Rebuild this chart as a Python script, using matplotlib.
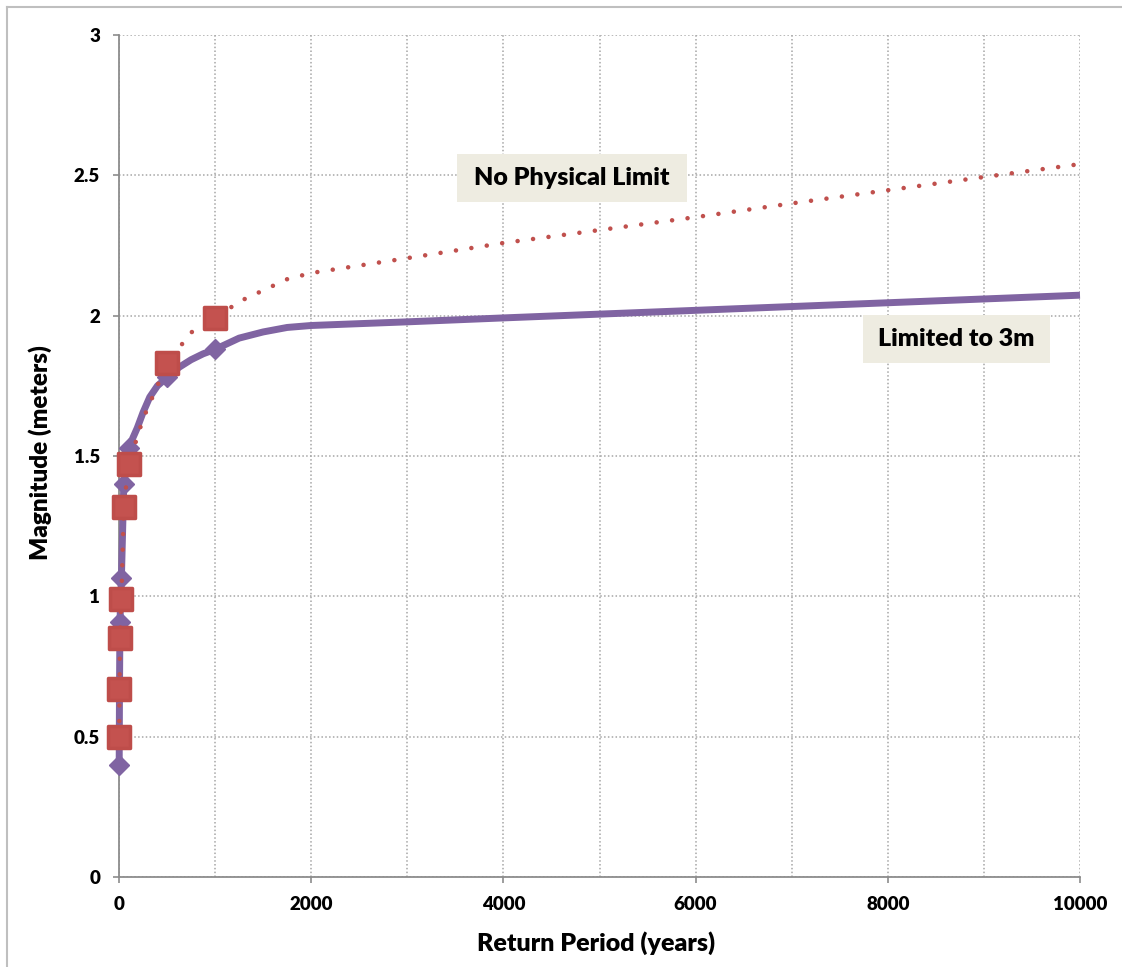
import matplotlib
matplotlib.use("Agg")
import matplotlib.pyplot as plt
import matplotlib.patches as patches
from matplotlib.lines import Line2D
from matplotlib.markers import MarkerStyle

# Marker points (return period in years, magnitude in meters)
RETURN_PERIOD = [2, 5, 10, 25, 50, 100, 500, 1000]
LIMITED = [0.40, 0.66, 0.91, 1.065, 1.40, 1.53, 1.78, 1.88]
UNLIMITED = [0.50, 0.67, 0.85, 0.99, 1.32, 1.47, 1.83, 1.99]

# Smoothed line traces
LIMITED_LINE_X = [2, 5, 10, 25, 50, 100, 190, 250, 320, 400, 500, 625, 750,
                  875, 1000, 1250, 1500, 1750, 2000, 3000, 4000, 6000, 8000,
                  10000]
LIMITED_LINE_Y = [0.40, 0.66, 0.91, 1.065, 1.40, 1.53, 1.60, 1.655, 1.71,
                  1.75, 1.78, 1.816, 1.843, 1.864, 1.88, 1.92, 1.942, 1.958,
                  1.965, 1.978, 1.992, 2.019, 2.046, 2.073]
UNLIMITED_LINE_X = [2, 5, 10, 25, 50, 100, 250, 500, 750, 1000, 1250, 1500,
                    1750, 2000, 3000, 4000, 5000, 6000, 7000, 8000, 9000, 10000]
UNLIMITED_LINE_Y = [0.50, 0.67, 0.85, 0.99, 1.32, 1.47, 1.632, 1.83, 1.94,
                    1.99, 2.05, 2.09, 2.13, 2.152, 2.205, 2.259, 2.305, 2.351,
                    2.40, 2.447, 2.494, 2.54]

PURPLE = "#8064A2"
RED = "#C0504D"
GRID = "#A6A6A6"
AXIS = "#8C8C8C"
BOX = "#EEECE1"
WEIGHT = "heavy"

plt.rcParams["font.family"] = ["Lato", "DejaVu Sans"]

W, H = 1122, 967
fig = plt.figure(figsize=(W / 100, H / 100), dpi=100)
ax = fig.add_axes([119 / W, 1 - 877 / H, (1080 - 119) / W, (877 - 35) / H])

ax.set_xlim(0, 10000)
ax.set_ylim(0, 3)
ax.set_xticks(range(0, 10001, 2000))
ax.set_xticks(range(0, 10001, 1000), minor=True)
ax.set_yticks([0, 0.5, 1, 1.5, 2, 2.5, 3])
ax.set_yticklabels(["0", "0.5", "1", "1.5", "2", "2.5", "3"])

ax.grid(True, which="both", axis="x", color=GRID, ls=(0, (1, 1.5)), lw=1.1)
ax.grid(True, which="major", axis="y", color=GRID, ls=(0, (1, 1.5)), lw=1.1)
ax.set_axisbelow(True)

for side in ("top", "right"):
    ax.spines[side].set_visible(False)
for side in ("left", "bottom"):
    ax.spines[side].set_color(AXIS)
    ax.spines[side].set_linewidth(1.3)

ax.tick_params(axis="both", which="major", direction="out", length=4.5,
               width=1.2, color=AXIS, labelsize=13.5)
ax.tick_params(axis="x", which="major", pad=9)
ax.tick_params(axis="y", which="major", pad=9)
ax.tick_params(axis="x", which="minor", length=0)
for lbl in ax.get_xticklabels() + ax.get_yticklabels():
    lbl.set_fontweight(WEIGHT)

# ---- Limited to 3m (purple, solid smooth line with diamonds) ----
ax.plot(LIMITED_LINE_X, LIMITED_LINE_Y, color=PURPLE, lw=5,
        solid_capstyle="butt", solid_joinstyle="round", zorder=3,
        clip_on=False)
ax.plot(RETURN_PERIOD, LIMITED, ls="none", marker="D", ms=10,
        mfc=PURPLE, mec=PURPLE, mew=1, zorder=4, clip_on=False)

# ---- No physical limit (red, round-dot line with squares) ----
ax.add_line(Line2D(UNLIMITED_LINE_X, UNLIMITED_LINE_Y, color=RED, lw=3.3,
                   ls=(0, (0.001, 3.4)), dash_capstyle="round", zorder=5,
                   clip_on=False))
ax.plot(RETURN_PERIOD, UNLIMITED, ls="none",
        marker=MarkerStyle("s", joinstyle="round"), ms=16.5,
        mfc="#C4524F", mec="#BE4D4A", mew=2.5, zorder=6, clip_on=False)

# ---- Labels ----
ax.set_xlabel("Return Period (years)", fontsize=18, fontweight=WEIGHT,
              va="center")
ax.xaxis.set_label_coords(0.496, -0.0784)
ax.set_ylabel("Magnitude (meters)", fontsize=17.5, fontweight=WEIGHT,
              va="center")
ax.yaxis.set_label_coords(-0.082, 0.5036)

# ---- Text boxes ----
def label_box(x, y, w, h, text):
    ax.add_patch(patches.Rectangle((x, y), w, h, transform=ax.transAxes,
                                   fc=BOX, ec="none", zorder=7))
    ax.text(x + w / 2, y + h / 2, text, transform=ax.transAxes,
            ha="center", va="center", fontsize=18, fontweight=WEIGHT,
            color="black", zorder=8)

label_box(0.3517, 0.8017, 0.2393, 0.057, "No Physical Limit")
label_box(0.7742, 0.6105, 0.1946, 0.057, "Limited to 3m")

# ---- Outer chart frame ----
fig.add_artist(Line2D([7 / W, 7 / W], [0, 1 - 7 / H], transform=fig.transFigure,
                      color="#BFBFBF", lw=1.5))
fig.add_artist(Line2D([7 / W, 1], [1 - 7 / H, 1 - 7 / H],
                      transform=fig.transFigure, color="#BFBFBF", lw=1.5))

fig.savefig("out.png", dpi=100, facecolor="white")
